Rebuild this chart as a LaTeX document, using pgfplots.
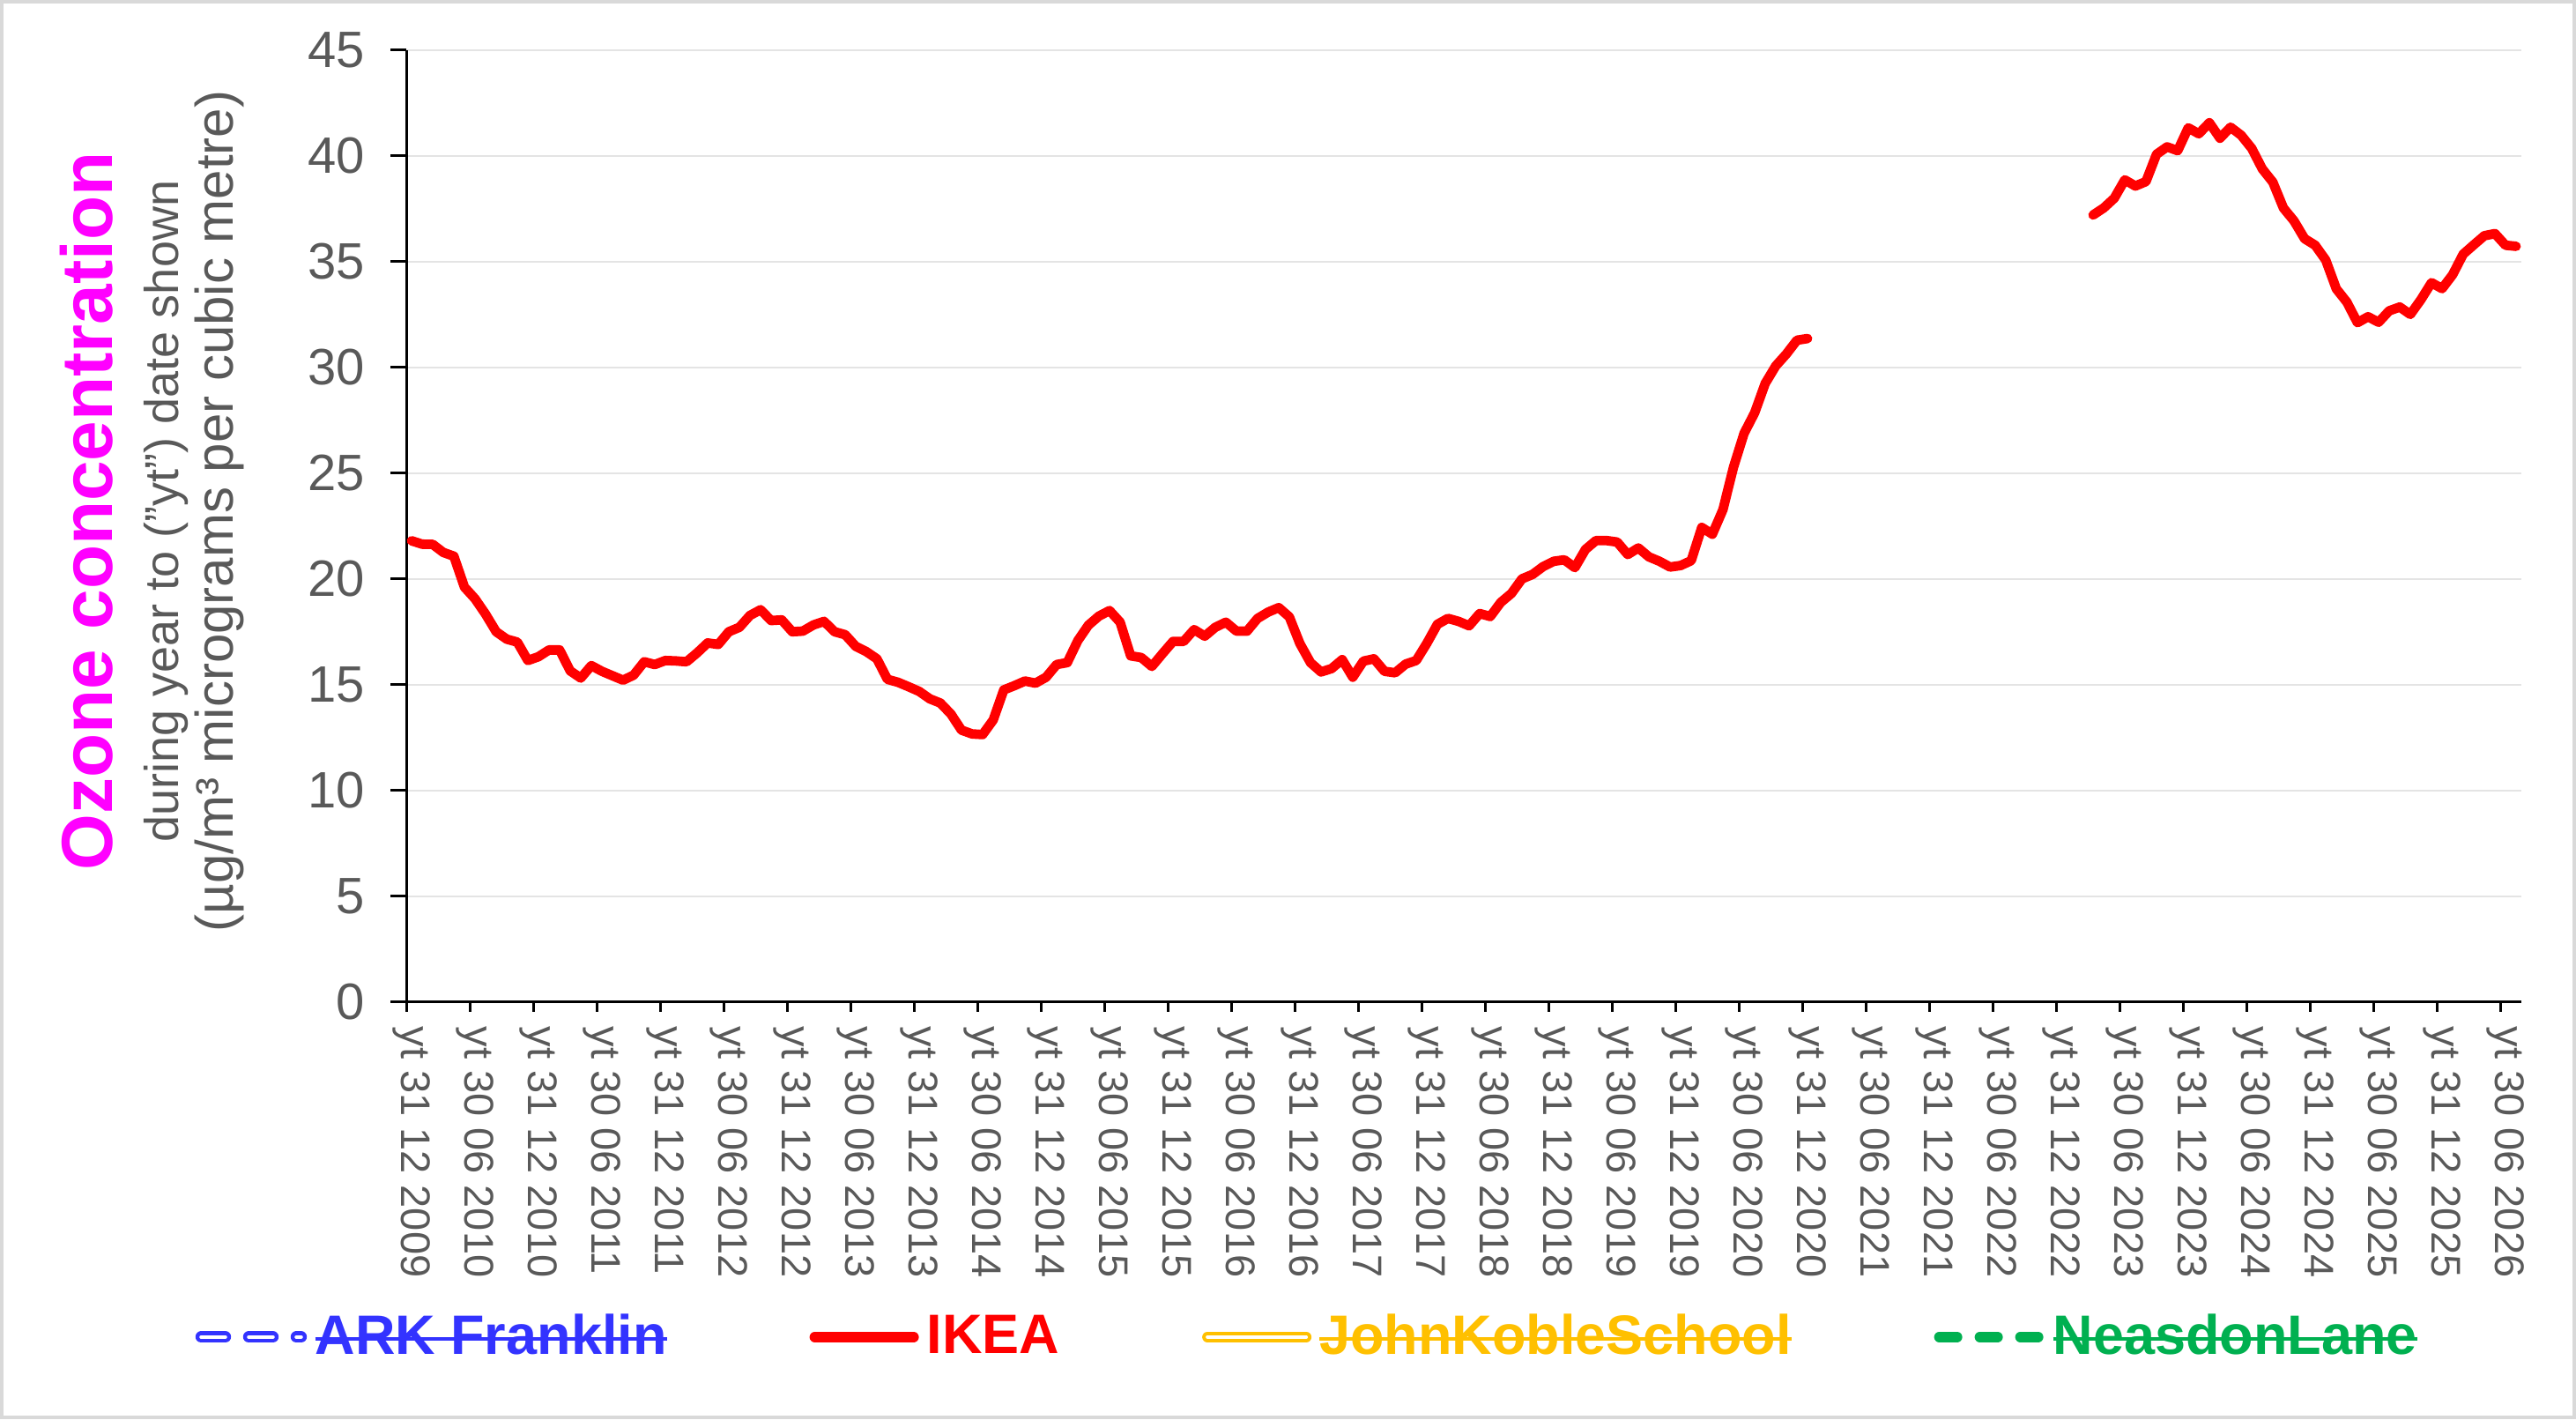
\documentclass[border=0pt]{standalone}
\usepackage{fontspec}
\setmainfont{Liberation Sans}
\usepackage{graphicx}
\usepackage{pgfplots}
\pgfplotsset{compat=1.18}
\newcommand{\strike}[1]{\setbox0=\hbox{#1}\rlap{\rule[0.25em]{\wd0}{0.9pt}}\box0}
\definecolor{arkblue}{RGB}{51,51,255}
\definecolor{ikeared}{RGB}{255,0,0}
\definecolor{johngold}{RGB}{255,192,0}
\definecolor{neasgreen}{RGB}{0,176,80}
\definecolor{ticklab}{RGB}{89,89,89}
\definecolor{gridc}{RGB}{228,228,228}
\definecolor{framec}{RGB}{217,217,217}
\definecolor{ozmag}{RGB}{255,0,255}

\pgfplotstableread{
i v
0 21.8
1 21.64
2 21.63
3 21.25
4 21.07
5 19.61
6 19.06
7 18.33
8 17.5
9 17.15
10 17.01
11 16.14
12 16.32
13 16.64
14 16.64
15 15.65
16 15.31
17 15.9
18 15.63
19 15.42
20 15.21
21 15.45
22 16.08
23 15.95
24 16.14
25 16.12
26 16.08
27 16.5
28 16.97
29 16.9
30 17.5
31 17.71
32 18.27
33 18.54
34 18.03
35 18.06
36 17.5
37 17.53
38 17.82
39 17.99
40 17.5
41 17.36
42 16.81
43 16.56
44 16.22
45 15.25
46 15.11
47 14.9
48 14.68
49 14.33
50 14.13
51 13.61
52 12.85
53 12.67
54 12.64
55 13.33
56 14.75
57 14.95
58 15.17
59 15.07
60 15.35
61 15.95
62 16.04
63 17.08
64 17.81
65 18.24
66 18.5
67 17.95
68 16.36
69 16.28
70 15.86
71 16.46
72 17.04
73 17.04
74 17.6
75 17.29
76 17.71
77 17.95
78 17.53
79 17.53
80 18.13
81 18.43
82 18.64
83 18.2
84 16.94
85 16.04
86 15.6
87 15.76
88 16.18
89 15.35
90 16.11
91 16.22
92 15.63
93 15.56
94 15.97
95 16.14
96 16.95
97 17.85
98 18.13
99 17.99
100 17.78
101 18.36
102 18.22
103 18.89
104 19.31
105 20.0
106 20.21
107 20.58
108 20.83
109 20.9
110 20.53
111 21.39
112 21.81
113 21.81
114 21.74
115 21.15
116 21.46
117 21.04
118 20.83
119 20.56
120 20.63
121 20.86
122 22.43
123 22.11
124 23.27
125 25.28
126 26.88
127 27.85
128 29.24
129 30.07
130 30.63
131 31.28
132 31.36
}\ikeaA

\pgfplotstableread{
i v
159 37.2
160 37.53
161 37.99
162 38.86
163 38.57
164 38.78
165 40.07
166 40.42
167 40.24
168 41.32
169 41.04
170 41.56
171 40.83
172 41.35
173 40.97
174 40.35
175 39.38
176 38.75
177 37.53
178 36.92
179 36.08
180 35.77
181 35.07
182 33.71
183 33.08
184 32.11
185 32.39
186 32.13
187 32.67
188 32.85
189 32.5
190 33.2
191 34.0
192 33.72
193 34.38
194 35.35
195 35.79
196 36.22
197 36.32
198 35.77
199 35.72
}\ikeaB

\begin{document}
\begin{tikzpicture}[x=1pt,y=1pt]
\useasboundingbox (0,0) rectangle (730.75,402.5);
\draw[framec, line width=1pt] (0.5,0.5) rectangle (730.25,402);

\node[rotate=90, anchor=base, text=ozmag, font=\bfseries\fontsize{20.5}{24}\selectfont, inner sep=0pt] at (31.75,257.5) {Ozone concentration};
\node[rotate=90, anchor=base, text=ticklab, font=\fontsize{13.5}{16}\selectfont, inner sep=0pt] at (50.5,257.5) {during year to ("yt") date shown};
\node[rotate=90, anchor=base, text=ticklab, font=\fontsize{15}{18}\selectfont, inner sep=0pt] at (66,257.5) {(µg/m³ micrograms per cubic metre)};

\begin{axis}[
  at={(115.25pt,118.325pt)}, anchor=south west,
  scale only axis, width=600pt, height=270pt,
  xmin=-0.5, xmax=199.5, ymin=0, ymax=45,
  axis x line*=bottom, axis y line*=left,
  axis line style={black, line width=0.75pt, -},
  /pgf/number format/assume math mode=true,
  ytick={0,5,...,45},
  ymajorgrids, major grid style={gridc, line width=0.5pt},
  tick align=outside,
  major tick length=4.5pt,
  y tick style={black, line width=0.75pt},
  yticklabel style={font=\fontsize{14.5}{17}\selectfont, text=ticklab, inner sep=0pt},
  yticklabel shift=7pt,
  xtick={0,6,...,198},
  xticklabels={yt 31 12 2009, yt 30 06 2010, yt 31 12 2010, yt 30 06 2011, yt 31 12 2011, yt 30 06 2012, yt 31 12 2012, yt 30 06 2013, yt 31 12 2013, yt 30 06 2014, yt 31 12 2014, yt 30 06 2015, yt 31 12 2015, yt 30 06 2016, yt 31 12 2016, yt 30 06 2017, yt 31 12 2017, yt 30 06 2018, yt 31 12 2018, yt 30 06 2019, yt 31 12 2019, yt 30 06 2020, yt 31 12 2020, yt 30 06 2021, yt 31 12 2021, yt 30 06 2022, yt 31 12 2022, yt 30 06 2023, yt 31 12 2023, yt 30 06 2024, yt 31 12 2024, yt 30 06 2025, yt 31 12 2025, yt 30 06 2026},
  x tick style={draw=none},
  xticklabel style={rotate=-90, anchor=west, inner sep=0pt, font=\fontsize{11.75}{14}\selectfont, text=ticklab},
  xticklabel shift=2.25pt,
  extra x ticks={-0.5,5.5,...,197.5},
  extra x tick labels={},
  extra x tick style={x tick style={draw=black, line width=0.75pt}, major tick length=2.8pt},
  legend columns=4,
  legend cell align=left,
  legend style={at={(axis description cs:-0.1,-0.352)}, anchor=west, draw=none, fill=none, inner sep=0pt,
    font=\bfseries\fontsize{15.75}{18}\selectfont,
    nodes={inner sep=0pt},
    /tikz/every odd column/.append style={column sep=2.25pt},
    /tikz/every even column/.append style={column sep=40.5pt}},
]
\addlegendimage{legend image code/.code={\draw[arkblue, line width=1.1pt, double=white, double distance=1.1pt, line cap=round, dash pattern=on 6.8pt off 6.7pt on 6.8pt off 6.7pt on 1.3pt off 10pt] (1.6pt,0pt) -- (30pt,0pt);}}
\addlegendentry{\textcolor{arkblue}{\strike{ARK Franklin}}}
\addplot[ikeared, line width=2.7pt, line join=round, line cap=round,
  legend image code/.code={\draw[ikeared, line width=3pt, line cap=round] (1.5pt,0pt) -- (29.5pt,0pt);}] table[x=i, y=v] {\ikeaA};
\addlegendentry{\textcolor{ikeared}{IKEA}}
\addplot[ikeared, line width=2.7pt, line join=round, line cap=round, forget plot] table[x=i, y=v] {\ikeaB};
\addlegendimage{legend image code/.code={\draw[johngold, line width=1pt, double=white, double distance=1pt, line cap=round] (1.5pt,0pt) -- (29.5pt,0pt);}}
\addlegendentry{\textcolor{johngold}{\strike{JohnKobleSchool}}}
\addlegendimage{legend image code/.code={\draw[neasgreen, line width=3pt, line cap=round, dash pattern=on 5pt off 6.5pt] (1.5pt,0pt) -- (30pt,0pt);}}
\addlegendentry{\textcolor{neasgreen}{\strike{NeasdonLane}}}
\end{axis}
\end{tikzpicture}
\end{document}
